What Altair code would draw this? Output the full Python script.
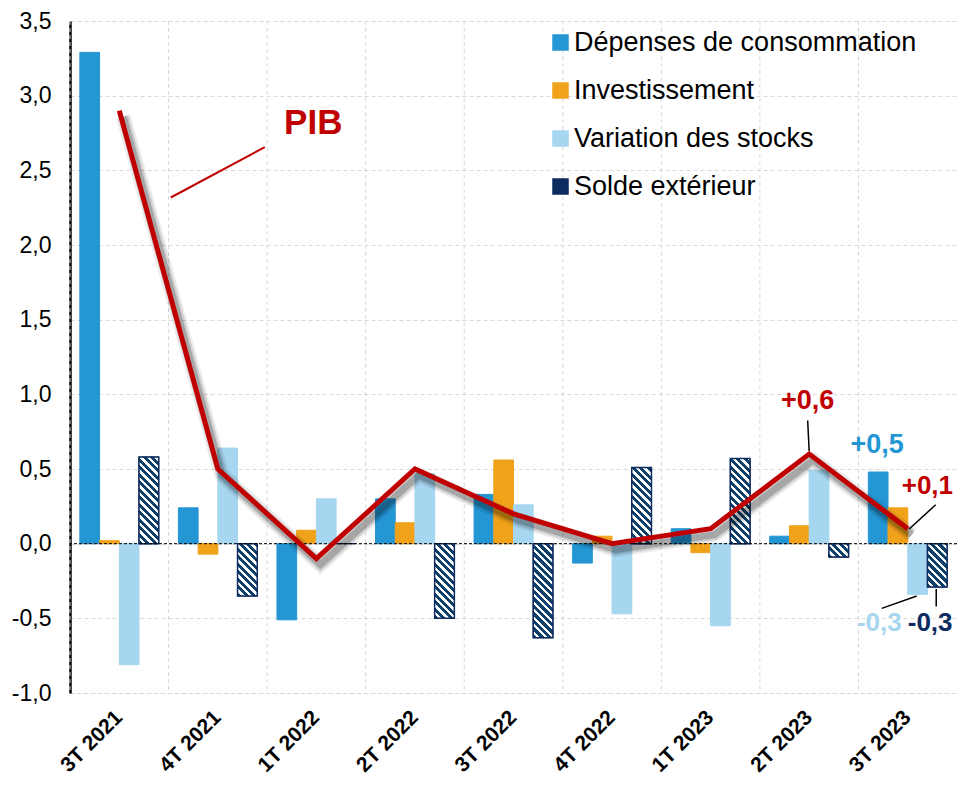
import math
import altair as alt
import pandas as pd

# ---------------- data ----------------
quarters = ["3T 2021", "4T 2021", "1T 2022", "2T 2022", "3T 2022",
            "4T 2022", "1T 2023", "2T 2023", "3T 2023"]
series_names = ["Dépenses de consommation", "Investissement",
                "Variation des stocks", "Solde extérieur"]
consommation = [3.29, 0.24, -0.51, 0.30, 0.33, -0.13, 0.10, 0.05, 0.48]
investissement = [0.02, -0.07, 0.09, 0.14, 0.56, 0.05, -0.06, 0.12, 0.24]
stocks = [-0.81, 0.64, 0.30, 0.47, 0.26, -0.47, -0.55, 0.49, -0.34]
solde = [0.58, -0.35, 0.00, -0.50, -0.63, 0.51, 0.57, -0.09, -0.29]
pib = [2.9, 0.5, -0.1, 0.5, 0.2, 0.0, 0.1, 0.6, 0.1]
y_ticks = [-1.0, -0.5, 0.0, 0.5, 1.0, 1.5, 2.0, 2.5, 3.0, 3.5]

# ---------------- style ----------------
C_CONS, C_INV, C_STK, C_NAVY, C_HATCH = "#2596D4", "#F0A21B", "#A6D6F0", "#0C2B5E", "#0E406C"
C_RED = "#C00000"
GRID = "#D9D9D9"
FONT = "Liberation Sans"
W, H = 887, 672
Y_MIN, Y_MAX = -1.0, 3.5
PX = H / (Y_MAX - Y_MIN)
STEP = W / len(quarters)
BAR_W = STEP / 5.0

rows = []
for i, q in enumerate(quarters):
    for s, vals in zip(series_names, [consommation, investissement, stocks, solde]):
        rows.append({"quarter": q, "series": s, "value": vals[i]})
df = pd.DataFrame(rows)

x_scale = alt.Scale(domain=quarters, paddingInner=0, paddingOuter=0)
x_axis = alt.Axis(title=None, labelAngle=-45, labelAlign="right", labelBaseline="middle",
                  labelFontSize=21, labelFontWeight="bold", labelPadding=21,
                  ticks=False, tickSize=0, domain=False, grid=False, labelColor="black")
x_enc = alt.X("quarter:N", scale=x_scale, axis=x_axis)
y_enc = alt.Y(
    "value:Q",
    scale=alt.Scale(domain=[Y_MIN, Y_MAX], nice=False, zero=False),
    axis=alt.Axis(title=None, values=y_ticks,
                  labelExpr="(datum.value < 0 ? '-' : '') + replace(format(abs(datum.value), '.1f'), '.', ',')",
                  labelFontSize=23, labelPadding=19, labelColor="black",
                  ticks=False, tickSize=0, domainColor="black", domainWidth=2.5,
                  grid=True, gridColor=GRID, gridDash=[4, 3], gridWidth=1),
)
xo_enc = alt.XOffset("series:N", scale=alt.Scale(domain=series_names, paddingOuter=0.5, paddingInner=0))

legend = alt.Legend(title=None, orient="none", legendX=477, legendY=8, symbolType="square",
                    symbolSize=225, labelFontSize=27, labelColor="black", rowPadding=20,
                    labelOffset=0, padding=0, symbolStrokeWidth=1.5, labelLimit=0)

bars = alt.Chart(df).mark_bar(strokeWidth=1).encode(
    x=x_enc, xOffset=xo_enc, y=y_enc,
    fill=alt.Fill("series:N", scale=alt.Scale(domain=series_names, range=[C_CONS, C_INV, C_STK, C_NAVY]), legend=legend),
    stroke=alt.Stroke("series:N", scale=alt.Scale(domain=series_names, range=[C_CONS, C_INV, C_STK, C_NAVY]), legend=legend),
)


def hatch(v):
    h = max(abs(v) * PX, 1.0)
    w = BAR_W
    s = (w + h) / (w * w + h * h)
    n = (w + h) / 7.5
    stops = []
    k = 0
    while k / n < 1:
        a, b, c = k / n, (k + 0.55) / n, (k + 1) / n
        stops += [alt.GradientStop(offset=min(a, 1), color=C_HATCH),
                  alt.GradientStop(offset=min(b, 1), color=C_HATCH),
                  alt.GradientStop(offset=min(b, 1), color="white"),
                  alt.GradientStop(offset=min(c, 1), color="white")]
        k += 1
    return alt.LinearGradient(gradient="linear", stops=stops, x1=0, y1=1, x2=s * w, y2=1 - s * h)


hatch_layers = []
for i, q in enumerate(quarters):
    if abs(solde[i]) < 0.005:
        continue
    sub = df[(df.series == series_names[3]) & (df.quarter == q)]
    hatch_layers.append(
        alt.Chart(sub).mark_bar(fill=hatch(solde[i]), stroke=C_NAVY, strokeWidth=1.5).encode(
            x=x_enc, xOffset=xo_enc, y=y_enc)
    )

vgrid = alt.Chart(pd.DataFrame({"quarter": quarters})).mark_rule(
    color=GRID, strokeDash=[4, 3], strokeWidth=1).encode(
    x=alt.X("quarter:N", bandPosition=0, scale=x_scale, axis=x_axis))

zero = alt.Chart(pd.DataFrame({"value": [0.0]})).mark_rule(
    color="black", strokeDash=[3, 2], strokeWidth=1).encode(y=y_enc)

line_df = pd.DataFrame({"quarter": quarters, "value": pib})
shadows = []
for sw, op in [(15, 0.07), (11, 0.12), (7, 0.2)]:
    shadows.append(alt.Chart(line_df).mark_line(color="black", opacity=op, strokeWidth=sw).encode(
        x=x_enc, y=y_enc, xOffset=alt.value(STEP / 2 + 4), yOffset=alt.value(6)))
pib_line = alt.Chart(line_df).mark_line(color=C_RED, strokeWidth=5).encode(x=x_enc, y=y_enc)


def fmt(v):
    return ("+" if v >= 0 else "-") + f"{abs(v):.1f}".replace(".", ",")


# annotations: (label, quarter index, anchor value, align, dx, dy, colour, size)
annots = [
    ("PIB", 0, pib[0], "center", 194.0, 23.3, C_RED, 35),
    (fmt(pib[7]), 7, pib[7], "center", -1.5, -45.2, C_RED, 27),
    (fmt(consommation[8]), 8, consommation[8], "center", -30.5, -19.2, C_CONS, 27),
    (fmt(pib[8]), 8, pib[8], "left", -6.0, -35, C_RED, 26),
    (fmt(stocks[8]), 8, stocks[8], "right", -6.0, 37, C_STK, 26),
    (fmt(solde[8]), 8, solde[8], "left", 0.0, 44.4, C_NAVY, 26),
]
text_layers = []
for lab, qi, val, al, dx, dy, col, sz in annots:
    d = pd.DataFrame({"quarter": [quarters[qi]], "value": [val], "label": [lab]})
    text_layers.append(alt.Chart(d).mark_text(
        align=al, baseline="alphabetic", dx=dx, dy=dy, color=col, fontSize=sz,
        fontWeight="bold", font=FONT).encode(x=x_enc, y=y_enc, text="label:N"))

# leader lines: (quarter index, anchor value, xOffset, yOffset, x2Offset, y2Offset, colour, width)
leaders = [
    (0, pib[0], 51.5, 86.9, 145.5, 36.6, C_RED, 2),
    (7, pib[7], -1.5, -33.6, 0.0, -3.0, "black", 1.5),
    (8, pib[8], 28.0, -24.0, 1.5, 0.3, "black", 1.5),
    (8, stocks[8], -26.0, 13.9, 9.0, 1.6, "black", 1.5),
    (8, solde[8], 28.5, 2.0, 28.5, 19.5, "black", 1.5),
]
leader_layers = []
for qi, val, xo, yo, x2o, y2o, col, sw in leaders:
    d = pd.DataFrame({"quarter": [quarters[qi]], "value": [val]})
    leader_layers.append(alt.Chart(d).mark_rule(
        color=col, strokeWidth=sw, xOffset=xo, yOffset=yo, x2Offset=x2o, y2Offset=y2o).encode(
        x=x_enc, x2="quarter:N", y=y_enc, y2="value:Q"))

chart = alt.layer(
    vgrid, bars, *hatch_layers, zero, *shadows, pib_line, *leader_layers, *text_layers
).properties(
    width=W, height=H,
    autosize=alt.AutoSizeParams(type="none"),
    padding={"left": 62, "top": 13, "right": 0, "bottom": 86},
).configure(font=FONT).configure_view(
    stroke=GRID, strokeDash=[4, 3], strokeWidth=1
)

chart.save("out.html", embed_options={"renderer": "svg", "actions": False})
